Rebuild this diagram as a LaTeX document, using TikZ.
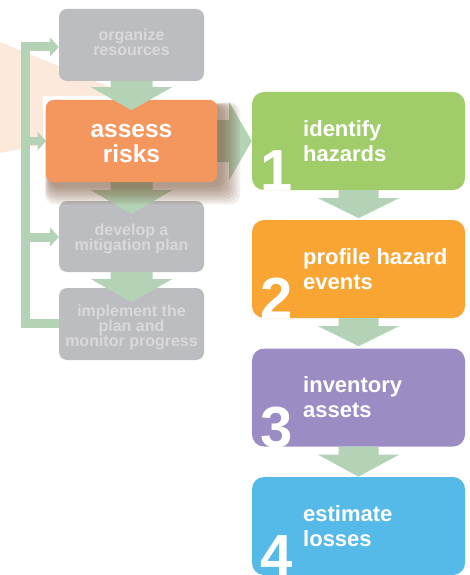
\documentclass[tikz,border=0pt]{standalone}
\usepackage{fontspec}
\setmainfont{Liberation Sans}
\usetikzlibrary{calc}
\definecolor{grayfill}{HTML}{BCBDC0}
\definecolor{graytext}{HTML}{D9D9DB}
\definecolor{arrowc}{HTML}{B4D3B6}
\definecolor{peach}{HTML}{FDE9DC}
\definecolor{assessc}{HTML}{F4975F}
\definecolor{greenc}{HTML}{A0CD69}
\definecolor{orangec}{HTML}{F8A534}
\definecolor{purplec}{HTML}{9B8DC3}
\definecolor{bluec}{HTML}{56BAE9}
\definecolor{shadowc}{HTML}{6E4526}
\newcommand\fatdown[5]{%
  \fill[arrowc] ($(#1)+(-#4,0)$) -- ++(0,#2) -- ++(-#5+#4,0) -- ($(#1)+(0,#2+#3)$)
    -- ($(#1)+(#5,#2)$) -- ++(-#5+#4,0) -- ($(#1)+(#4,0)$) -- cycle;}
\tikzset{
  graybox/.style={fill=grayfill, rounded corners=8pt, inner sep=0pt, minimum width=145pt},
  stepbox/.style={rounded corners=12pt, inner sep=0pt, minimum width=213pt, minimum height=98pt},
  graylabel/.style={text=graytext, font=\fontsize{16}{15}\selectfont\bfseries, anchor=base, inner sep=0pt},
  assesslabel/.style={text=white, font=\fontsize{24.5}{24}\selectfont\bfseries, anchor=base, inner sep=0pt},
  steplabel/.style={text=white, font=\fontsize{22}{25}\selectfont\bfseries, anchor=base west, inner sep=0pt},
  stepnum/.style={text=white, font=\fontsize{58}{58}\selectfont\bfseries, anchor=base west, inner sep=0pt},
  loopline/.style={draw=arrowc, line width=9pt, line join=miter},
}
\begin{document}
\begin{tikzpicture}[x=1pt,y=-1pt]
\useasboundingbox (0,0) rectangle (470,575);
\fill[white] (0,0) rectangle (470,575);
% spotlight wedge
\fill[peach] (0,42) -- (185,118) -- (0,153) -- cycle;
\fill[white] (43,96) rectangle (240,205);
% boxes
\node[graybox, minimum height=72pt] (org) at (131.5,45) {};
\node[graybox, minimum height=71pt] (dev) at (131.5,236.5) {};
\node[graybox, minimum height=72pt] (impl) at (131.5,324) {};
\node[stepbox, fill=greenc] (s1) at (358.5,141) {};
\node[stepbox, fill=orangec] (s2) at (358.5,269) {};
\node[stepbox, fill=purplec] (s3) at (358.5,397.5) {};
\node[stepbox, fill=bluec] (s4) at (358.5,526) {};
% feedback loop
\coordinate (lb) at (25.5,323);
\coordinate (lt) at (25.5,47);
\draw[loopline] (impl.west |- lb) -- (lb) -- (lt) -- (50,47);
\draw[loopline, line width=8pt] (25.5,141) -- (38,141);
\draw[loopline, line width=9pt] (25.5,237) -- (50,237);
\fill[arrowc] (50,37.5) -- (org.west |- lt) -- (50,56.5) -- cycle;
\fill[arrowc] (37.5,131.5) -- (46,141) -- (37.5,150.5) -- cycle;
\fill[arrowc] (50,227.5) -- (dev.west |- 0,237) -- (50,246.5) -- cycle;
% arrows
\node[inner sep=0pt, minimum width=171pt, minimum height=82pt] (assess) at (131.5,141) {};
\fatdown{assess.south}{8}{24}{21}{40.5}
\fatdown{dev.south}{7}{23}{21}{40.5}
\fatdown{s1.south}{8}{20}{20}{40.5}
\fatdown{s2.south}{8}{20}{20}{40.5}
\fatdown{s3.south}{8}{22}{20}{40.5}
\fill[arrowc] ($(assess.east)+(0,-21)$) -- ++(12,0) -- ++(0,-18) -- (s1.west)
  -- ($(assess.east)+(12,39)$) -- ++(0,-18) -- ($(assess.east)+(0,21)$) -- cycle;
% shadow
\foreach \i in {1,...,8}
  \fill[shadowc, opacity=0.085, rounded corners=10pt]
    ($(assess.north west)+(4-\i*0.6,6-\i*0.4)$) rectangle ($(assess.south east)+(3+\i*2.5,3+\i*2.4)$);
\fill[assessc, rounded corners=8pt] (assess.north west) rectangle (assess.south east);
\fatdown{org.south}{6}{23}{21}{40.5}
% texts
\node[graylabel] (t1a) at (131.5,41) {organize};
\node[graylabel] (t1b) at (131.5,56) {resources};
\node[assesslabel] (t2a) at (131.5,138) {assess};
\node[assesslabel] (t2b) at (131.5,162) {risks};
\node[graylabel] (t3a) at (131.5,235) {develop a};
\node[graylabel] (t3b) at (131.5,250) {mitigation plan};
\node[graylabel] (t4a) at (131.5,316) {implement the};
\node[graylabel] (t4b) at (131.5,331) {plan and};
\node[graylabel] (t4c) at (131.5,346) {monitor progress};
\node[steplabel] (l1a) at (303,136) {identify};
\node[steplabel] (l1b) at (303,161) {hazards};
\node[steplabel] (l2a) at (303,264) {profile hazard};
\node[steplabel] (l2b) at (303,289) {events};
\node[steplabel] (l3a) at (303,392) {inventory};
\node[steplabel] (l3b) at (303,417) {assets};
\node[steplabel] (l4a) at (303,521) {estimate};
\node[steplabel] (l4b) at (303,546) {losses};
\node[stepnum] (n1) at (260,190) {1};
\node[stepnum] (n2) at (260,318) {2};
\node[stepnum] (n3) at (260,447) {3};
\node[stepnum] (n4) at (260,575) {4};
\end{tikzpicture}
\end{document}
